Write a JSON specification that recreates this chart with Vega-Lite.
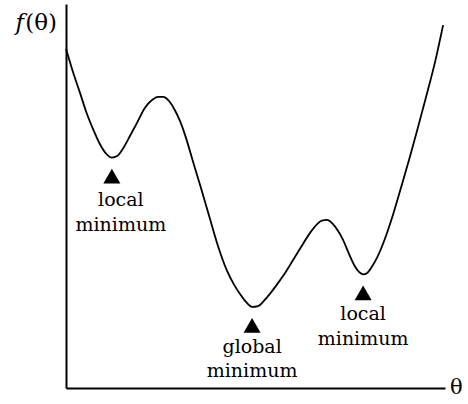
{
  "$schema": "https://vega.github.io/schema/vega-lite/v6.json",
  "width": 379,
  "height": 384,
  "padding": {"left": 66, "top": 4, "right": 23, "bottom": 16},
  "autosize": {"type": "none"},
  "background": "white",
  "config": {"view": {"stroke": null}, "font": "DejaVu Serif", "text": {"font": "DejaVu Serif"}},
  "datasets": {
    "curve": [
      {"theta": 0.0, "f": 8.833},
      {"theta": 0.18, "f": 8.243},
      {"theta": 0.37, "f": 7.685},
      {"theta": 0.53, "f": 7.20},
      {"theta": 0.71, "f": 6.75},
      {"theta": 0.90, "f": 6.34},
      {"theta": 1.06, "f": 6.10},
      {"theta": 1.21, "f": 5.999},
      {"theta": 1.35, "f": 6.041},
      {"theta": 1.53, "f": 6.278},
      {"theta": 1.69, "f": 6.568},
      {"theta": 1.87, "f": 6.899},
      {"theta": 2.08, "f": 7.292},
      {"theta": 2.27, "f": 7.498},
      {"theta": 2.43, "f": 7.581},
      {"theta": 2.56, "f": 7.581},
      {"theta": 2.74, "f": 7.447},
      {"theta": 2.87, "f": 7.240},
      {"theta": 3.01, "f": 6.95},
      {"theta": 3.17, "f": 6.50},
      {"theta": 3.35, "f": 5.90},
      {"theta": 3.54, "f": 5.28},
      {"theta": 3.80, "f": 4.40},
      {"theta": 4.01, "f": 3.70},
      {"theta": 4.25, "f": 3.05},
      {"theta": 4.43, "f": 2.70},
      {"theta": 4.59, "f": 2.45},
      {"theta": 4.75, "f": 2.24},
      {"theta": 4.91, "f": 2.112},
      {"theta": 5.07, "f": 2.133},
      {"theta": 5.22, "f": 2.267},
      {"theta": 5.38, "f": 2.45},
      {"theta": 5.54, "f": 2.66},
      {"theta": 5.73, "f": 2.92},
      {"theta": 5.91, "f": 3.20},
      {"theta": 6.17, "f": 3.62},
      {"theta": 6.44, "f": 4.04},
      {"theta": 6.62, "f": 4.26},
      {"theta": 6.75, "f": 4.36},
      {"theta": 6.89, "f": 4.376},
      {"theta": 7.04, "f": 4.273},
      {"theta": 7.18, "f": 4.087},
      {"theta": 7.31, "f": 3.859},
      {"theta": 7.47, "f": 3.487},
      {"theta": 7.63, "f": 3.156},
      {"theta": 7.73, "f": 3.022},
      {"theta": 7.84, "f": 2.960},
      {"theta": 7.94, "f": 2.991},
      {"theta": 8.07, "f": 3.156},
      {"theta": 8.21, "f": 3.40},
      {"theta": 8.42, "f": 3.90},
      {"theta": 8.63, "f": 4.52},
      {"theta": 8.84, "f": 5.22},
      {"theta": 9.08, "f": 6.04},
      {"theta": 9.29, "f": 6.80},
      {"theta": 9.53, "f": 7.69},
      {"theta": 9.74, "f": 8.50},
      {"theta": 9.95, "f": 9.45}
    ],
    "minima": [
      {"theta": 1.21, "f": 5.999, "label": "local\nminimum", "kind": "local1"},
      {"theta": 4.91, "f": 2.112, "label": "global\nminimum", "kind": "global"},
      {"theta": 7.84, "f": 2.960, "label": "local\nminimum", "kind": "local2"}
    ]
  },
  "layer": [
    {
      "data": {"name": "curve"},
      "mark": {"type": "line", "color": "black", "strokeWidth": 1.8, "interpolate": "monotone"},
      "encoding": {
        "x": {"field": "theta", "type": "quantitative", "scale": {"domain": [0, 10], "nice": false, "zero": false},
          "axis": {"domain": true, "domainColor": "black", "domainWidth": 2, "ticks": false, "labels": false, "grid": false, "title": null}},
        "y": {"field": "f", "type": "quantitative", "scale": {"domain": [0, 10], "nice": false, "zero": false},
          "axis": {"domain": true, "domainColor": "black", "domainWidth": 2, "ticks": false, "labels": false, "grid": false, "title": null}}
      }
    },
    {
      "data": {"name": "minima"},
      "mark": {"type": "point", "shape": "triangle-up", "filled": true, "color": "black", "opacity": 1, "size": 290, "yOffset": 18.5},
      "encoding": {
        "x": {"field": "theta", "type": "quantitative"},
        "y": {"field": "f", "type": "quantitative"}
      }
    },
    {
      "data": {"name": "minima"},
      "transform": [{"filter": "datum.kind === 'local1'"}],
      "mark": {"type": "text", "font": "DejaVu Serif", "fontSize": 19, "color": "black", "align": "center", "baseline": "alphabetic", "lineBreak": "\n", "lineHeight": 25, "dy": 48, "dx": 9},
      "encoding": {
        "x": {"field": "theta", "type": "quantitative"},
        "y": {"field": "f", "type": "quantitative"},
        "text": {"field": "label"}
      }
    },
    {
      "data": {"name": "minima"},
      "transform": [{"filter": "datum.kind !== 'local1'"}],
      "mark": {"type": "text", "font": "DejaVu Serif", "fontSize": 19, "color": "black", "align": "center", "baseline": "alphabetic", "lineBreak": "\n", "lineHeight": 24.5, "dy": 46},
      "encoding": {
        "x": {"field": "theta", "type": "quantitative"},
        "y": {"field": "f", "type": "quantitative"},
        "text": {"field": "label"}
      }
    },
    {
      "data": {"values": [{"theta": 0, "f": 10, "t": "(θ)"}]},
      "mark": {"type": "text", "font": "DejaVu Serif", "fontSize": 23, "color": "black", "align": "right", "baseline": "alphabetic", "dx": -9, "dy": 26},
      "encoding": {
        "x": {"field": "theta", "type": "quantitative"},
        "y": {"field": "f", "type": "quantitative"},
        "text": {"field": "t"}
      }
    },
    {
      "data": {"values": [{"theta": 0, "f": 10, "t": "f"}]},
      "mark": {"type": "text", "font": "DejaVu Serif", "fontSize": 23, "fontStyle": "italic", "color": "black", "align": "right", "baseline": "alphabetic", "dx": -42, "dy": 26},
      "encoding": {
        "x": {"field": "theta", "type": "quantitative"},
        "y": {"field": "f", "type": "quantitative"},
        "text": {"field": "t"}
      }
    },
    {
      "data": {"values": [{"theta": 10, "f": 0, "t": "θ"}]},
      "mark": {"type": "text", "font": "DejaVu Serif", "fontSize": 21, "color": "black", "align": "left", "baseline": "middle", "dx": 5, "dy": 0},
      "encoding": {
        "x": {"field": "theta", "type": "quantitative"},
        "y": {"field": "f", "type": "quantitative"},
        "text": {"field": "t"}
      }
    }
  ]
}
